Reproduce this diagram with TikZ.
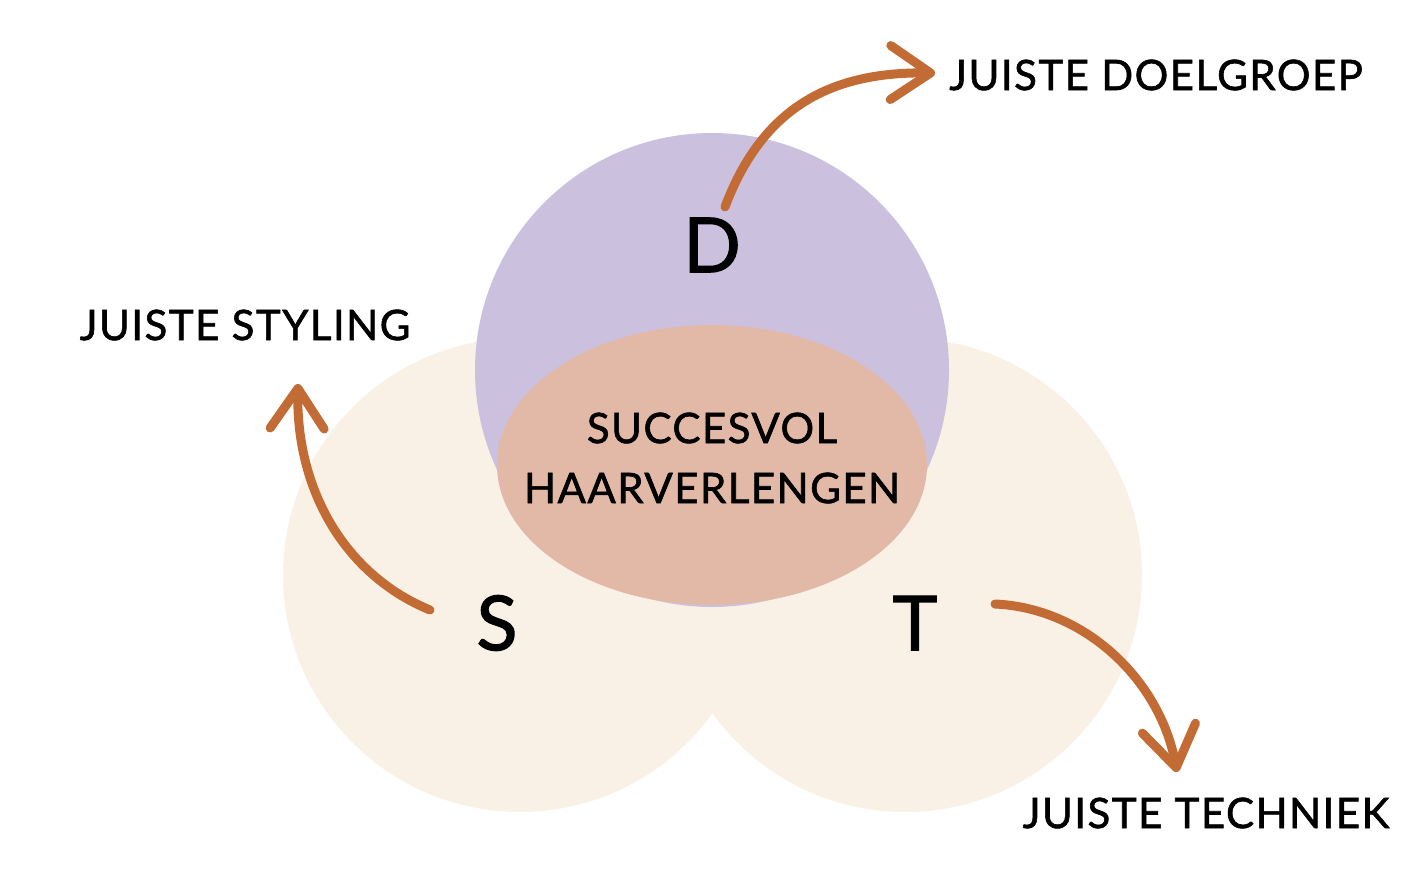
\documentclass[tikz,border=0pt]{standalone}
\usepackage{fontspec}
\setmainfont{Lato}[FakeBold=1.4, LetterSpace=3.5]
\usepackage{tikz}
\usetikzlibrary{arrows.meta,positioning}
\definecolor{lavender}{HTML}{CBC1DF}
\definecolor{cream}{HTML}{FAF1E6}
\definecolor{blush}{HTML}{E2B9A7}
\definecolor{copper}{HTML}{C26B35}
\tikzset{
  bigletter/.style={font=\fontsize{76}{80}\selectfont, text=black},
  tag/.style={font=\fontsize{42}{46}\selectfont, text=black, inner sep=0pt},
  curvearr/.style={-{Straight Barb[length=40pt, width=54pt, line cap=round, round]},
    line width=9pt, line cap=round, draw=copper}
}

\begin{document}
\begin{tikzpicture}[x=1pt,y=-1pt]
  \useasboundingbox (0,0) rectangle (1424,887);
  \fill[cream] (520,575) circle (237);
  \fill[cream] (905,575) circle (237);
  \fill[lavender] (712,370) circle (237);
  \fill[blush] (712,465) ellipse (215 and 140);

  \node[bigletter] (dlet) at (712,245) {D};
  \node[bigletter] (slet) at (497,623) {S};
  \node[bigletter] (tlet) at (915,623) {T};
  \node[tag, align=center] (core) at (712,458) {SUCCESVOL\\[14pt]HAARVERLENGEN};

  \node[tag] (doel) at (1156,75) {JUISTE DOELGROEP};
  \node[tag] (styl) at (245,325) {JUISTE STYLING};
  \node[tag] (tech) at (1206,813) {JUISTE TECHNIEK};

  \coordinate (dtail) at (725,207);
  \coordinate (dtip) at (935,73);
  \coordinate (stail) at (430,610);
  \coordinate (stip) at (298,384);
  \coordinate (ttail) at (995,604);
  \coordinate (ttip) at (1177,772);

  \draw[curvearr] (dtail) .. controls (765,100) and (840,72) .. (dtip);
  \draw[curvearr] (stail) .. controls (345,575) and (296,490) .. (stip);
  \draw[curvearr] (ttail) .. controls (1085,608) and (1160,680) .. (ttip);
\end{tikzpicture}
\end{document}
